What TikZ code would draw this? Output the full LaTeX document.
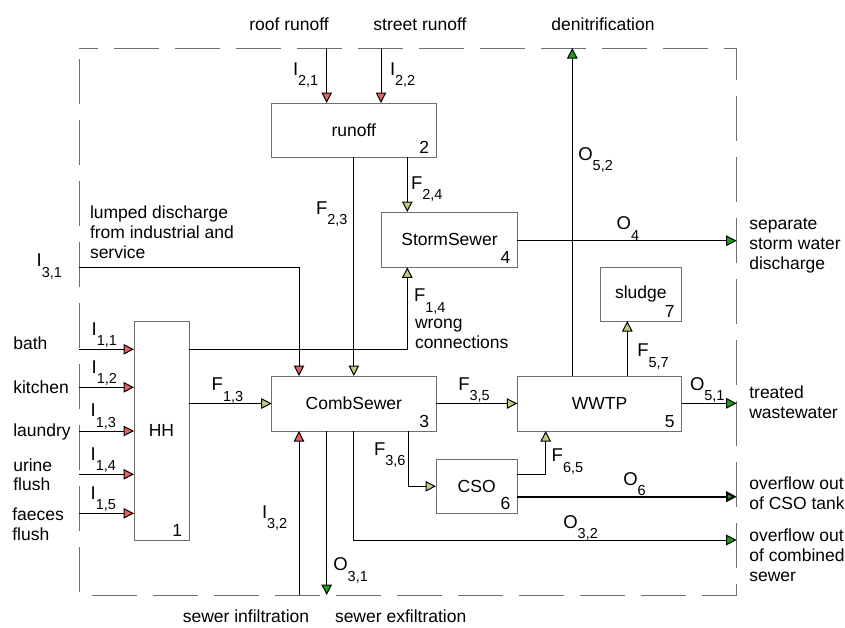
\documentclass[tikz,border=0pt]{standalone}
\usepackage{fontspec}
\setmainfont{Liberation Sans}
\usetikzlibrary{arrows.meta}
\definecolor{tipred}{RGB}{232,96,96}
\definecolor{tipolive}{RGB}{200,200,130}
\definecolor{tipgreen}{RGB}{30,160,30}
\definecolor{boxgray}{RGB}{110,110,110}
\newcommand{\vsym}[2]{#1\raisebox{-10.5pt}{\fontsize{14.5}{15}\selectfont #2}}
\begin{document}
\begin{tikzpicture}[x=1pt,y=-1pt,
  every node/.style={font=\fontsize{17.5}{19.7}\selectfont, inner sep=0pt, outer sep=0pt},
  box/.style={draw=boxgray, line width=1pt, anchor=north west},
  flow/.style={draw=black, line width=1pt},
  inred/.style={flow, -{Triangle[length=10.5pt,width=10.5pt,fill=tipred]}},
  inolive/.style={flow, -{Triangle[length=10.5pt,width=10.5pt,fill=tipolive]}},
  ingreen/.style={flow, -{Triangle[length=10.5pt,width=10.5pt,fill=tipgreen]}},
  sym/.style={anchor=base west, font=\fontsize{18.5}{18.5}\selectfont},
  txt/.style={anchor=base west, align=left},
  num/.style={anchor=base east, xshift=-7pt, yshift=3.5pt}
]
\useasboundingbox (0,0) rectangle (845,627);

% system border
\coordinate (bTL) at (79,48);
\coordinate (bBR) at (736.7,595);
\draw[draw=boxgray, line width=1pt, dash pattern=on 45pt off 16pt, dash phase=26pt]
  (bTL) -- (bTL -| bBR) -- (bBR) -- (bTL |- bBR) -- cycle;

% boxes
\node[box, minimum width=164.3pt, minimum height=54.3pt] (runoff) at (271.7,103) {runoff};
\node[box, minimum width=135.6pt, minimum height=55.3pt] (storm) at (381.7,212) {StormSewer};
\node[box, minimum width=164.3pt, minimum height=55pt] (comb) at (271.7,376) {CombSewer};
\node[box, minimum width=164.4pt, minimum height=55pt] (wwtp) at (517.3,376) {WWTP};
\node[box, minimum width=55pt, minimum height=218.3pt] (hh) at (134,321.7) {HH};
\node[box, minimum width=81.3pt, minimum height=54pt] (cso) at (436,459.3) {CSO};
\node[box, minimum width=81.7pt, minimum height=53.7pt] (sludge) at (600,267.3) {sludge};

\node[num] (n1) at (hh.south east) {1};
\node[num] (n2) at (runoff.south east) {2};
\node[num] (n3) at (comb.south east) {3};
\node[num] (n4) at (storm.south east) {4};
\node[num] (n5) at (wwtp.south east) {5};
\node[num] (n6) at (cso.south east) {6};
\node[num] (n7) at (sludge.south east) {7};

% border coordinates
\coordinate (c21) at (326.7,48);
\coordinate (c22) at (381,48);
\coordinate (c52) at (572.3,48);
\coordinate (c4) at (736.7,240.7);
\coordinate (c31) at (79,267.3);
\coordinate (c11) at (79,349.3);
\coordinate (c12) at (79,387.3);
\coordinate (c13) at (79,431);
\coordinate (c14) at (79,474.3);
\coordinate (c15) at (79,513.3);
\coordinate (c51) at (736.7,403.3);
\coordinate (c6) at (736.7,496.7);
\coordinate (c32o) at (736.7,540);
\coordinate (c32i) at (299,595);
\coordinate (c31o) at (326.7,595);

% inputs
\draw[inred] (c21) -- (c21 |- runoff.north);
\draw[inred] (c22) -- (c22 |- runoff.north);
\draw[inred] (c31) -- (c31 -| c32i) -- (c32i |- comb.north);
\draw[inred] (c11) -- (c11 -| hh.west);
\draw[inred] (c12) -- (c12 -| hh.west);
\draw[inred] (c13) -- (c13 -| hh.west);
\draw[inred] (c14) -- (c14 -| hh.west);
\draw[inred] (c15) -- (c15 -| hh.west);
\draw[inred] (c32i) -- (c32i |- comb.south);

% internal flows
\draw[inolive] (runoff.south) -- (comb.north);
\draw[inolive] (407.3,0 |- runoff.south) -- (407.3,0 |- storm.north);
\draw[inolive] (c11 -| hh.east) -- (c11 -| 407.3,0) -- (407.3,0 |- storm.south);
\draw[inolive] (hh.east |- comb.west) -- (comb.west);
\draw[inolive] (comb.east) -- (wwtp.west);
\draw[inolive] (627.3,0 |- wwtp.north) -- (627.3,0 |- sludge.south);
\draw[inolive] (408.3,0 |- comb.south) -- (408.3,0 |- cso.west) -- (cso.west);
\draw[inolive] (cso.east |- 0,474.3) -- (545.7,474.3) -- (545.7,0 |- wwtp.south);

% outputs
\draw[ingreen] (c52 |- wwtp.north) -- (c52);
\draw[ingreen] (storm.east |- c4) -- (c4);
\draw[ingreen] (wwtp.east |- c51) -- (c51);
\draw[ingreen, line width=2pt] (cso.east |- c6) -- (c6);
\draw[ingreen] (353.3,0 |- comb.south) -- (353.3,0 |- c32o) -- (c32o);
\draw[ingreen] (c31o |- comb.south) -- (c31o);

% symbol labels
\node[sym] (lI21) at (293,75) {\vsym{I}{2,1}};
\node[sym] (lI22) at (390,75) {\vsym{I}{2,2}};
\node[sym] (lF23) at (316,214) {\vsym{F}{2,3}};
\node[sym] (lF24) at (411,189) {\vsym{F}{2,4}};
\node[sym] (lO52) at (578.3,160) {\vsym{O}{5,2}};
\node[sym] (lO4) at (616.7,229.5) {\vsym{O}{4}};
\node[sym] (lI31) at (36.7,266.7) {\vsym{I}{3,1}};
\node[sym] (lF14) at (414,301.7) {\vsym{F}{1,4}};
\node[sym] (lI11) at (91.7,335) {\vsym{I}{1,1}};
\node[sym] (lI12) at (91.7,373.3) {\vsym{I}{1,2}};
\node[sym] (lI13) at (90.7,416.7) {\vsym{I}{1,3}};
\node[sym] (lI14) at (90.7,460) {\vsym{I}{1,4}};
\node[sym] (lI15) at (90.7,499.3) {\vsym{I}{1,5}};
\node[sym] (lF13) at (211.7,390.7) {\vsym{F}{1,3}};
\node[sym] (lF35) at (458.3,390) {\vsym{F}{3,5}};
\node[sym] (lO51) at (690,390) {\vsym{O}{5,1}};
\node[sym] (lF57) at (637.3,356.7) {\vsym{F}{5,7}};
\node[sym] (lF36) at (374,455) {\vsym{F}{3,6}};
\node[sym] (lF65) at (551.7,461.7) {\vsym{F}{6,5}};
\node[sym] (lO6) at (623.3,485) {\vsym{O}{6}};
\node[sym] (lO32) at (563.3,528.3) {\vsym{O}{3,2}};
\node[sym] (lI32) at (262,518.3) {\vsym{I}{3,2}};
\node[sym] (lO31) at (333.3,570.7) {\vsym{O}{3,1}};

% text labels (multi-line: base = last line's baseline)
\node[anchor=base] (troof) at (289,30) {roof runoff};
\node[anchor=base] (tstreet) at (420,30) {street runoff};
\node[anchor=base] (tden) at (603,30) {denitrification};
\node[txt] (tlump) at (90,258.3) {lumped discharge\\from industrial and\\service};
\node[txt] (twrong) at (415,348.3) {wrong\\connections};
\node[txt] (tbath) at (13.3,349.3) {bath};
\node[txt] (tkitchen) at (13.3,393.3) {kitchen};
\node[txt] (tlaundry) at (13.3,436.7) {laundry};
\node[txt] (turine) at (13.3,490.7) {urine\\flush};
\node[txt] (tfaeces) at (12.3,540) {faeces\\flush};
\node[anchor=base] (tinf) at (246,622) {sewer infiltration};
\node[anchor=base west] (texf) at (335,622) {sewer exfiltration};
\node[txt] (tsep) at (749.3,269.3) {separate\\storm water\\discharge};
\node[txt] (ttreat) at (749.3,418.3) {treated\\wastewater};
\node[txt] (tcso) at (749.3,509.3) {overflow out\\of CSO tank};
\node[txt] (tcomb) at (749.3,581) {overflow out\\of combined\\sewer};
\end{tikzpicture}
\end{document}
